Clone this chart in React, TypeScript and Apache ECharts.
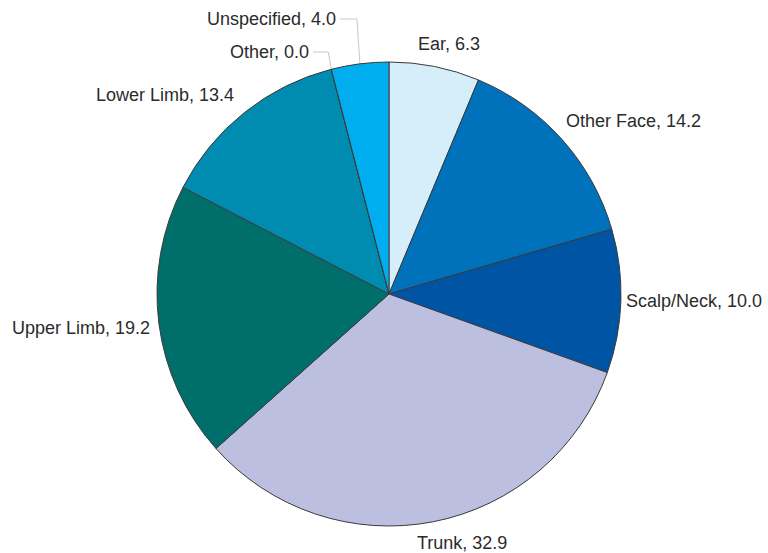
import React, { useEffect, useRef } from "react";
import * as echarts from "echarts";

const categories = ["Ear", "Other Face", "Scalp/Neck", "Trunk", "Upper Limb", "Lower Limb", "Other", "Unspecified"];
const values = [6.3, 14.2, 10.0, 32.9, 19.2, 13.4, 0.0, 4.0];
const colors = ["#d5eefa", "#0072bc", "#0054a4", "#bcbfe0", "#006f6b", "#008bb0", "#7fb2d6", "#00aeef"];
// label anchor (left x, middle y) and whether a leader line is drawn
const labelLeft = [418, 566, 626, 417, 12, 96, 230, 207];
const labelMidY = [44, 121, 301, 543, 328, 95, 52, 19];
const showLine = [false, false, false, false, false, false, true, true];

export default function App() {
  const ref = useRef<HTMLDivElement>(null);
  useEffect(() => {
    if (!ref.current) return;
    const chart = echarts.init(ref.current, undefined, { renderer: "svg" });
    chart.setOption({
      animation: false,
      backgroundColor: "#ffffff",
      series: [
        {
          type: "pie",
          center: [389, 294],
          radius: 232,
          startAngle: 90,
          clockwise: true,
          minShowLabelAngle: 0,
          avoidLabelOverlap: false,
          stillShowZeroSum: true,
          showEmptyCircle: false,
          itemStyle: { borderColor: "#3a3a3a", borderWidth: 1 },
          label: {
            show: true,
            formatter: (p: any) => `${p.name}, ${Number(p.value).toFixed(1)}`,
            fontFamily: "Liberation Sans, Arial, sans-serif",
            fontSize: 18,
            color: "#2b2b2b",
          },
          emphasis: { disabled: true },
          labelLine: { show: true, length: 10, length2: 10, lineStyle: { color: "#c8c8c8", width: 1 } },
          labelLayout: (params: any) => {
            const i = params.dataIndex;
            const w = params.labelRect.width;
            const res: any = {
              x: labelLeft[i],
              y: labelMidY[i],
              align: "left",
              verticalAlign: "middle",
            };
            if (showLine[i] && params.labelLinePoints) {
              const p0 = params.labelLinePoints[0];
              const right = labelLeft[i] + w + 4;
              res.labelLinePoints = [p0, [p0[0] - 3, labelMidY[i]], [right, labelMidY[i]]];
            }
            return res;
          },
          data: categories.map((c, i) => ({
            name: c,
            value: values[i],
            itemStyle: { color: colors[i] },
            labelLine: { show: showLine[i] },
          })),
        },
      ],
    });
    return () => chart.dispose();
  }, []);
  return <div ref={ref} style={{ position: "absolute", left: 0, top: 0, width: 768, height: 553 }} />;
}
